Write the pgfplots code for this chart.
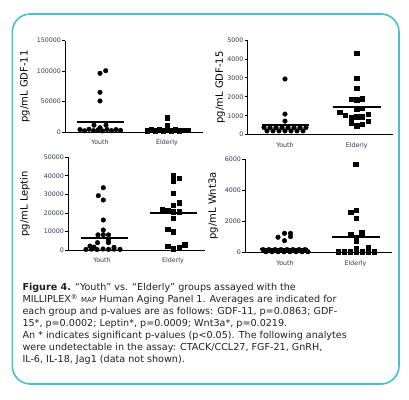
\documentclass[border=0pt]{standalone}
\usepackage{fontspec}
\setmainfont{DejaVu Sans}
\usepackage{pgfplots}
\pgfplotsset{compat=1.18}
\definecolor{frame}{RGB}{70,192,207}
\definecolor{tickcol}{RGB}{55,55,85}
\definecolor{captext}{RGB}{35,31,32}
\pgfplotsset{
  dotplot/.style={
    scale only axis, axis x line*=bottom, axis y line*=left,
    axis line style={-, line width=0.8pt},
    clip=false, ymin=0,
    xtick style={draw=none}, ytick style={line width=0.8pt, black},
    major tick length=3pt, tick align=outside,
    tick label style={font=\fontsize{6.3}{7}\selectfont, text=tickcol},
    xticklabel style={inner sep=0pt, yshift=-4.5pt},
    scaled y ticks=false,
    yticklabel style={/pgf/number format/fixed, /pgf/number format/1000 sep={}, inner sep=1pt},
    /pgf/number format/assume math mode=true,
    xticklabels={Youth,Elderly},
    ylabel style={font=\fontsize{7.3}{8}\selectfont, text=black},
  },
  youth/.style={only marks, mark=*, mark size=2.3pt, black, mark options={fill=black, draw=black}},
  elderly/.style={only marks, mark=square*, mark size=2.3pt, black, mark options={fill=black, draw=black}},
  meanline/.style={no marks, black, line width=2.2pt},
}
\begin{document}
\begin{tikzpicture}[x=1pt,y=1pt]
\path[fill=white] (0,0) rectangle (409,399);
\draw[frame, line width=1.6pt, rounded corners=18pt] (12.3,15) rectangle (399,385);

% Panel 1: GDF-11
\begin{axis}[dotplot, at={(65pt,267pt)}, anchor=south west,
  width=138pt, height=91.3pt, xmin=65, xmax=203, ymax=150000,
  xtick={100,167}, ytick={0,50000,100000,150000},
  ylabel={pg/mL GDF-11},
  every axis y label/.style={at={(axis description cs:-0.29,0.5)}, rotate=90, anchor=center}]
\addplot[youth] coordinates {(100,96400)(105.7,100700)(100,65200)(100,51000)
  (94,11200)(106,11200)(100,7000)(80,4000)(84.5,2000)(89,4500)(93.5,2200)(98,3500)
  (102.5,1800)(107,4200)(111.5,2200)(116,4000)(120.5,2800)};
\addplot[meanline] coordinates {(77,16400)(124,16400)};
\addplot[elderly] coordinates {(167,23500)(167,10400)(147,2500)(151,3500)(155,2000)
  (159,3300)(163,2600)(167,3800)(171,2300)(175,3400)(179,2600)(183,3000)(187.5,3200)};
\addplot[meanline] coordinates {(145,4400)(191,4400)};
\end{axis}

% Panel 2: GDF-15
\begin{axis}[dotplot, at={(247.7pt,264.3pt)}, anchor=south west,
  width=145pt, height=94.7pt, xmin=247.7, xmax=392.7, ymax=5000,
  xtick={285,356.7}, ytick={0,1000,2000,3000,4000,5000},
  ylabel={pg/mL GDF-15},
  every axis y label/.style={at={(axis description cs:-0.19,0.5)}, rotate=90, anchor=center}]
\addplot[youth] coordinates {(285,2940)(285,1090)(285,720)
  (264,380)(270,380)(276,380)(282,380)(288,380)(294,380)(300,380)(306,380)
  (267,200)(273,200)(279,200)(285,200)(291,200)(297,200)(303,200)};
\addplot[meanline] coordinates {(261.5,512)(308.5,512)};
\addplot[elderly] coordinates {(356.7,4300)(356.7,2980)(356.7,2450)
  (351,1880)(356.7,1840)(362.3,1900)(356.7,1340)(362.3,1390)
  (339.5,1180)(345.3,1040)(368,1090)(351,920)(356.7,950)(362.3,950)
  (351,640)(368,720)(356.7,460)(362.3,550)};
\addplot[meanline] coordinates {(332.5,1460)(380.5,1460)};
\end{axis}

% Panel 3: Leptin
\begin{axis}[dotplot, at={(68pt,148.7pt)}, anchor=south west,
  width=137pt, height=93pt, xmin=68, xmax=205, ymax=50000,
  xtick={102,173}, ytick={0,10000,20000,30000,40000,50000},
  ylabel={pg/mL Leptin},
  every axis y label/.style={at={(axis description cs:-0.314,0.5)}, rotate=90, anchor=center}]
\addplot[youth] coordinates {(103.3,33660)(98.3,29360)(103.3,27040)(103.3,16290)
  (103.3,10910)(98,8300)(103.3,8400)(108.5,8300)(108.5,5500)(97.5,4100)(108.5,4100)
  (90,2300)(86,500)(91.5,600)(97,450)(103,700)(108.5,500)(114,600)(120,500)
  (94,1700)(114,1600)};
\addplot[meanline] coordinates {(80.5,6450)(127.5,6450)};
\addplot[elderly] coordinates {(173.3,40480)(179,38700)(173.3,37260)(173.3,30650)
  (179,25600)(173.3,24350)(162,21670)(167.7,21130)(173.3,20750)(179,20750)
  (173.3,17200)(167.7,11450)(173.3,10000)(167.7,2310)(184.7,2850)(179,1400)(173.3,700)};
\addplot[meanline] coordinates {(150,19890)(197,19890)};
\end{axis}

% Panel 4: Wnt3a
\begin{axis}[dotplot, at={(245pt,146.3pt)}, anchor=south west,
  width=146.7pt, height=93.7pt, xmin=245, xmax=391.7, ymax=6000,
  xtick={285,355.5}, ytick={0,2000,4000,6000},
  ylabel={pg/mL Wnt3a},
  every axis y label/.style={at={(axis description cs:-0.216,0.5)}, rotate=90, anchor=center}]
\addplot[youth] coordinates {(278,990)(284.5,1240)(290.5,1240)(290.5,1030)(284.5,770)
  (263,200)(269,200)(275,200)(281,200)(287,200)(293,200)(299,200)(305,200)
  (266,60)(272,60)(278,60)(284,60)(290,60)(296,60)(302,60)(308,60)};
\addplot[meanline] coordinates {(260,218)(308,218)};
\addplot[elderly] coordinates {(355.7,5680)(350.7,2590)(356.3,2730)(356.3,2200)
  (350.7,1180)(361.7,1280)(356,1000)(356,770)(356,280)(368,320)
  (338,50)(344,50)(350,50)(356,50)(362,50)(368,50)(374,50)};
\addplot[meanline] coordinates {(332,986)(380,986)};
\end{axis}

% Caption
\begin{scope}[every node/.style={anchor=base west, inner sep=0pt, text=captext, font=\fontsize{9.6}{12}\selectfont}]
\node at (22.3,108.3) {\textbf{Figure 4.} “Youth” vs. “Elderly” groups assayed with the};
\node at (22.3,96.3) {MILLIPLEX\textsuperscript{®} {\fontsize{7}{8}\selectfont MAP} Human Aging Panel 1. Averages are indicated for};
\node at (22.3,84.3) {each group and p-values are as follows: GDF-11, p=0.0863; GDF-};
\node at (22.3,72.3) {15*, p=0.0002; Leptin*, p=0.0009; Wnt3a*, p=0.0219.};
\node at (22.3,60.3) {An * indicates significant p-values (p<0.05). The following analytes};
\node at (22.3,48.3) {were undetectable in the assay: CTACK/CCL27, FGF-21, GnRH,};
\node at (22.3,36.3) {IL-6, IL-18, Jag1 (data not shown).};
\end{scope}
\end{tikzpicture}
\end{document}
